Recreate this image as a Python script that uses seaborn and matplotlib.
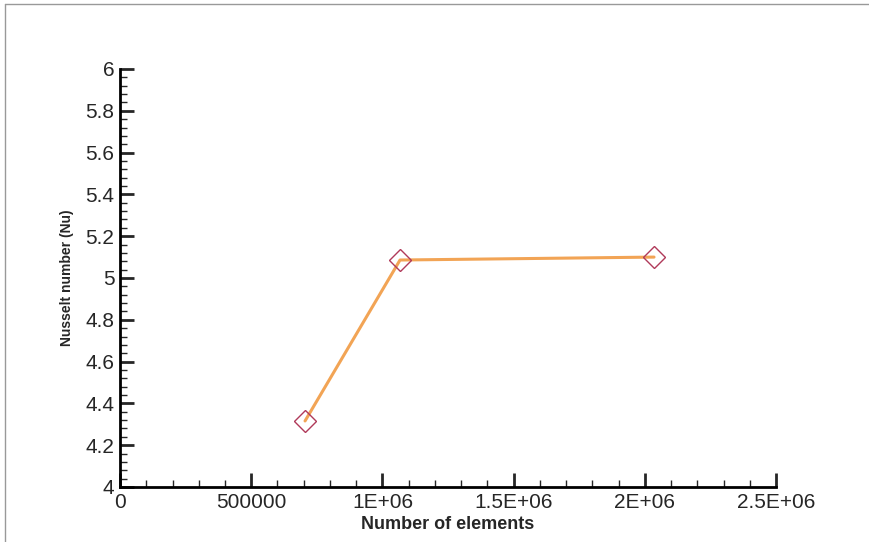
import numpy as np
import pandas as pd
import matplotlib
matplotlib.use('Agg')
import matplotlib.pyplot as plt
from matplotlib.lines import Line2D
from matplotlib.ticker import MultipleLocator, FuncFormatter
import seaborn as sns

# grid study data
elements = [705000, 1067000, 2035000]
nusselt = [4.316, 5.086, 5.100]

df = pd.DataFrame({'elements': elements, 'Nu': nusselt})

sns.set_style('ticks')
plt.rcParams['font.family'] = ['Liberation Sans', 'DejaVu Sans']

fig = plt.figure(figsize=(8.7, 5.42), dpi=100)
ax = fig.add_axes([0.138, 0.1015, 0.754, 0.7712])

sns.lineplot(data=df, x='elements', y='Nu', ax=ax, color='#f2a455', linewidth=2.2,
             marker='D', markersize=11, markerfacecolor='none',
             markeredgecolor='#b03a5a', markeredgewidth=1.0, zorder=3)

ax.set_xlim(0, 2.5e6)
ax.set_ylim(4, 6)
ax.xaxis.set_major_locator(MultipleLocator(500000))
ax.xaxis.set_minor_locator(MultipleLocator(100000))
ax.yaxis.set_major_locator(MultipleLocator(0.2))
ax.yaxis.set_minor_locator(MultipleLocator(0.04))

def xfmt(v, pos):
    if v == 0:
        return '0'
    if v == 500000:
        return '500000'
    s = '%g' % (v / 1e6)
    return s + 'E+06'

ax.xaxis.set_major_formatter(FuncFormatter(xfmt))
ax.yaxis.set_major_formatter(FuncFormatter(lambda v, p: '%g' % round(v, 2)))

for side in ['top', 'right']:
    ax.spines[side].set_visible(False)
for side in ['left', 'bottom']:
    ax.spines[side].set_linewidth(2)
    ax.spines[side].set_color('black')

ax.tick_params(which='major', direction='in', length=10, width=2, labelsize=15, pad=4)
ax.tick_params(which='minor', direction='in', length=5, width=1)

ax.set_xlabel('Number of elements', fontsize=13, fontweight='bold', labelpad=3)
ax.set_ylabel('Nusselt number (Nu)', fontsize=10, fontweight='bold', labelpad=8)

# thin grey frame lines at top and left of the image
fig.add_artist(Line2D([0.006, 1.0], [0.993, 0.993], color='#999999', linewidth=1))
fig.add_artist(Line2D([0.006, 0.006], [0.0, 0.993], color='#999999', linewidth=1))

fig.savefig('out.png', dpi=100)
